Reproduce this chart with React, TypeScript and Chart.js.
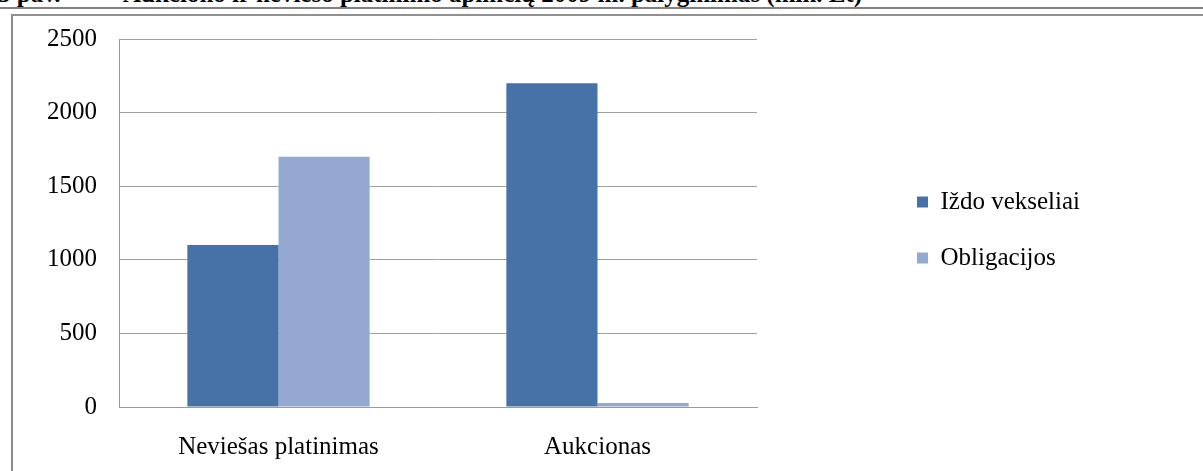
import React, { useEffect, useRef } from "react";
import { Chart, registerables } from "chart.js";

Chart.register(...registerables);

const categories = ["Neviešas platinimas", "Aukcionas"];
const seriesNames = ["Iždo vekseliai", "Obligacijos"];
const izdoVekseliai = [1100, 2200];
const obligacijos = [1700, 28];
const yMin = 0;
const yMax = 2500;
const yStep = 500;
const seriesColors = ["#4672A8", "#94A9D2"];
const captionNumber = "5 pav.";
const captionText = "Aukciono ir neviešo platinimo apimčių 2009 m. palyginimas (mln. Lt)";

const FONT = "'Liberation Serif', 'Times New Roman', serif";
const LABEL_SIZE = 25;
const LEGEND_PAD = 31;
const LEGEND_BOX = 11;

// legend gets a fixed width so its items start at a fixed place
const legendWidthPlugin = {
  id: "legendWidth",
  beforeUpdate(chart: any) {
    const lg = chart.legend;
    if (lg && !lg.__fixedWidth) {
      const orig = lg.fit.bind(lg);
      lg.fit = function () {
        orig();
        this.width = 317;
      };
      lg.__fixedWidth = true;
    }
  },
};

export default function App() {
  const canvasRef = useRef<HTMLCanvasElement | null>(null);

  useEffect(() => {
    const canvas = canvasRef.current;
    if (!canvas) return;
    const chart = new Chart(canvas, {
      type: "bar",
      data: {
        labels: categories,
        datasets: [
          {
            label: seriesNames[0],
            data: izdoVekseliai,
            backgroundColor: seriesColors[0],
            borderWidth: 0,
            yAxisID: "y",
          },
          {
            label: seriesNames[1],
            data: obligacijos,
            backgroundColor: seriesColors[1],
            borderWidth: 0,
            yAxisID: "y",
          },
        ],
      },
      plugins: [legendWidthPlugin],
      options: {
        responsive: false,
        animation: false,
        devicePixelRatio: 1,
        datasets: {
          bar: { barPercentage: 1, categoryPercentage: 1 / 1.75 },
        },
        layout: { padding: { top: 23, left: 0, right: 0, bottom: 0 } },
        plugins: {
          tooltip: { enabled: false },
          title: { display: false },
          legend: {
            display: true,
            position: "right",
            align: "center",
            fullSize: false,
            title: {
              display: true,
              text: " ",
              font: { size: 10, lineHeight: 1.4 },
              padding: 0,
            },
            labels: {
              boxWidth: LEGEND_BOX,
              boxHeight: LEGEND_BOX,
              padding: LEGEND_PAD,
              color: "#000000",
              font: { family: FONT, size: LABEL_SIZE },
            },
          },
        },
        scales: {
          x: {
            type: "category",
            grid: { display: false, drawTicks: false },
            border: { display: true, color: "#9a9a9a", width: 1 },
            ticks: {
              color: "#000000",
              font: { family: FONT, size: LABEL_SIZE },
              padding: 25,
              maxRotation: 0,
              autoSkip: false,
            },
            afterFit: (s: any) => {
              s.height = 64;
            },
          },
          y: {
            type: "linear",
            position: "left",
            min: yMin,
            max: yMax,
            grid: {
              display: true,
              color: "#a0a0a0",
              lineWidth: 1,
              drawTicks: true,
              tickLength: 22,
              tickColor: "rgba(0,0,0,0)",
            },
            border: { display: true, color: "#9a9a9a", width: 1 },
            ticks: {
              stepSize: yStep,
              color: "#000000",
              font: { family: FONT, size: LABEL_SIZE },
              padding: 0,
              callback: (v: any) => String(v),
            },
            afterFit: (s: any) => {
              s.width = 106;
            },
          },
          y2: {
            type: "linear",
            position: "right",
            display: true,
            grid: { display: false, drawTicks: false },
            border: { display: false },
            ticks: { display: false },
            afterFit: (s: any) => {
              s.width = 129;
            },
          },
        },
      },
    });
    return () => chart.destroy();
  }, []);

  const captionStyle: React.CSSProperties = {
    position: "absolute",
    top: -19,
    whiteSpace: "pre",
    fontFamily: FONT,
    fontWeight: "bold",
    fontSize: 25,
    lineHeight: "25px",
    color: "#000",
  };

  return (
    <div
      style={{
        position: "absolute",
        left: 0,
        top: 0,
        width: 1203,
        height: 471,
        overflow: "hidden",
        background: "#ffffff",
      }}
    >
      <div style={{ ...captionStyle, left: -2 }}>{captionNumber}</div>
      <div style={{ ...captionStyle, left: 123 }}>{captionText}</div>
      <div
        style={{
          position: "absolute",
          left: 0,
          top: 7,
          width: 1203,
          height: 2,
          background: "#808080",
        }}
      />
      <div
        style={{
          position: "absolute",
          left: 11,
          top: 14,
          width: 1192,
          height: 2,
          background: "#8f8f8f",
        }}
      />
      <div
        style={{
          position: "absolute",
          left: 11,
          top: 14,
          width: 2,
          height: 457,
          background: "#8f8f8f",
        }}
      />
      <canvas
        ref={canvasRef}
        width={1190}
        height={455}
        style={{ position: "absolute", left: 13, top: 16, width: 1190, height: 455, display: "block" }}
      />
    </div>
  );
}
